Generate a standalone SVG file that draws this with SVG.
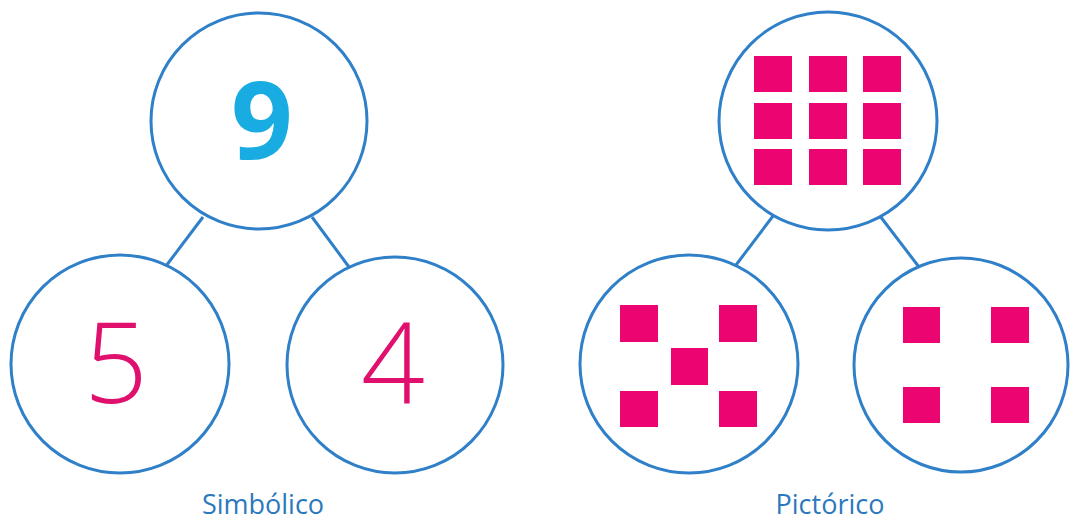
<svg xmlns="http://www.w3.org/2000/svg" width="1073" height="529" viewBox="0 0 1073 529">
<style>
.c{fill:#fff;stroke:#2f80c8;stroke-width:3}
.l{stroke:#2f80c8;stroke-width:3;fill:none}
.sq{fill:#ec0570}
.d{font-family:"Open Sans","Liberation Sans",sans-serif;font-weight:300;fill:#e0116e;text-anchor:middle}
.t{font-family:"Open Sans","Liberation Sans",sans-serif;font-size:27px;fill:#2b79bd;text-anchor:middle}
</style>
<rect width="1073" height="529" fill="#fff"/>
<g id="connectors">
<line class="l" x1="203" y1="217" x2="166" y2="266"/>
<line class="l" x1="312" y1="217" x2="349" y2="267"/>
<line class="l" x1="773" y1="216" x2="736" y2="265"/>
<line class="l" x1="880" y1="216" x2="919" y2="267"/>
</g>
<g id="sym-top">
<circle class="c" cx="259" cy="121" r="108"/>
<text x="262" y="159" font-family="'Open Sans','Liberation Sans',sans-serif" font-weight="bold" font-size="108" fill="#18ace2" text-anchor="middle">9</text>
</g>
<g id="sym-left">
<circle class="c" cx="120" cy="364" r="109"/>
<text class="d" x="116" y="403" font-size="112">5</text>
</g>
<g id="sym-right">
<circle class="c" cx="395" cy="365" r="108"/>
<text class="d" x="393" y="404" font-size="112">4</text>
</g>
<g id="pic-top">
<circle class="c" cx="828" cy="121" r="109"/>
<rect class="sq" x="754" y="56" width="38" height="36"/>
<rect class="sq" x="809" y="56" width="38" height="36"/>
<rect class="sq" x="863" y="56" width="38" height="36"/>
<rect class="sq" x="754" y="103" width="38" height="36"/>
<rect class="sq" x="809" y="103" width="38" height="36"/>
<rect class="sq" x="863" y="103" width="38" height="36"/>
<rect class="sq" x="754" y="149" width="38" height="36"/>
<rect class="sq" x="809" y="149" width="38" height="36"/>
<rect class="sq" x="863" y="149" width="38" height="36"/>
</g>
<g id="pic-left">
<circle class="c" cx="689" cy="364" r="109"/>
<rect class="sq" x="620" y="305" width="38" height="37"/>
<rect class="sq" x="719" y="305" width="38" height="37"/>
<rect class="sq" x="671" y="348" width="37" height="37"/>
<rect class="sq" x="620" y="391" width="38" height="36"/>
<rect class="sq" x="719" y="391" width="38" height="36"/>
</g>
<g id="pic-right">
<circle class="c" cx="961" cy="365" r="107"/>
<rect class="sq" x="903" y="307" width="37" height="36"/>
<rect class="sq" x="991" y="307" width="38" height="36"/>
<rect class="sq" x="903" y="387" width="37" height="36"/>
<rect class="sq" x="991" y="387" width="38" height="36"/>
</g>
<text class="t" x="263" y="514">Simbólico</text>
<text class="t" x="830" y="514">Pictórico</text>
</svg>
